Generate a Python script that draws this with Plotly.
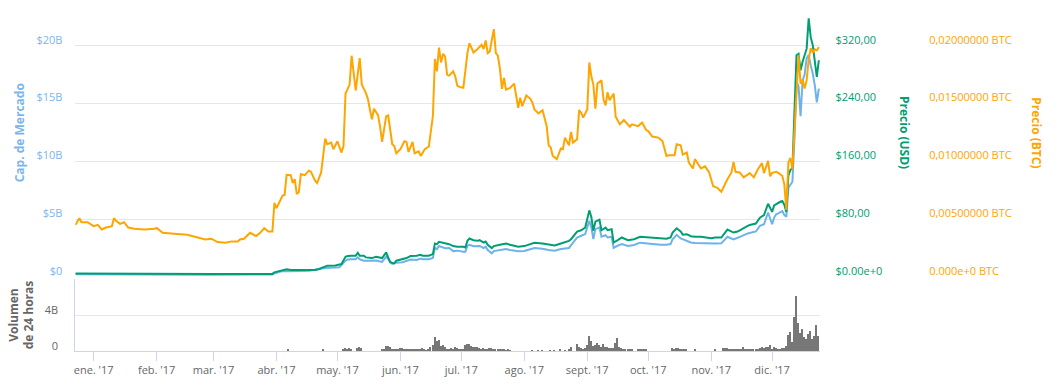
import plotly.graph_objects as go

# ---------------- DATA ----------------
btc_dates = [
 "2016-12-23","2016-12-25","2016-12-26","2016-12-29","2017-01-01","2017-01-03","2017-01-05","2017-01-07",
 "2017-01-10","2017-01-11","2017-01-12","2017-01-14","2017-01-16","2017-01-18","2017-01-21","2017-01-26",
 "2017-01-31","2017-02-01","2017-02-04","2017-02-09","2017-02-11","2017-02-16","2017-02-21","2017-02-25",
 "2017-02-28","2017-03-03","2017-03-07","2017-03-10","2017-03-13","2017-03-14","2017-03-16","2017-03-19",
 "2017-03-22","2017-03-24","2017-03-26","2017-03-28","2017-03-30","2017-03-31","2017-04-01","2017-04-04",
 "2017-04-05","2017-04-06","2017-04-08","2017-04-09","2017-04-10","2017-04-11","2017-04-12","2017-04-13",
 "2017-04-15","2017-04-17","2017-04-18","2017-04-20","2017-04-21","2017-04-23","2017-04-25","2017-04-26",
 "2017-04-28","2017-04-29","2017-05-01","2017-05-03","2017-05-04","2017-05-05","2017-05-07","2017-05-08",
 "2017-05-09","2017-05-10","2017-05-12","2017-05-13","2017-05-15","2017-05-16","2017-05-17","2017-05-18",
 "2017-05-19","2017-05-21","2017-05-22","2017-05-23","2017-05-25","2017-05-26","2017-05-28","2017-05-29",
 "2017-05-30","2017-06-01","2017-06-03","2017-06-04","2017-06-05","2017-06-07","2017-06-08","2017-06-10",
 "2017-06-11","2017-06-13","2017-06-15","2017-06-16","2017-06-17","2017-06-18","2017-06-19","2017-06-20",
 "2017-06-21","2017-06-22","2017-06-23","2017-06-24","2017-06-25","2017-06-27","2017-06-28","2017-06-29",
 "2017-06-30","2017-07-02","2017-07-04","2017-07-05","2017-07-07","2017-07-09","2017-07-11","2017-07-12",
 "2017-07-13","2017-07-14","2017-07-15","2017-07-17","2017-07-18","2017-07-19","2017-07-20","2017-07-21",
 "2017-07-22","2017-07-23","2017-07-25","2017-07-27","2017-07-29","2017-07-30","2017-07-31","2017-08-02",
 "2017-08-04","2017-08-05","2017-08-06","2017-08-08","2017-08-10","2017-08-12","2017-08-13","2017-08-14",
 "2017-08-15","2017-08-17","2017-08-19","2017-08-20","2017-08-21","2017-08-23","2017-08-24","2017-08-25",
 "2017-08-27","2017-08-28","2017-08-29","2017-08-30","2017-09-01","2017-09-02","2017-09-03","2017-09-04",
 "2017-09-05","2017-09-06","2017-09-08","2017-09-09","2017-09-10","2017-09-11","2017-09-12","2017-09-14",
 "2017-09-15","2017-09-17","2017-09-19","2017-09-22","2017-09-23","2017-09-26","2017-09-28","2017-09-30",
 "2017-10-01","2017-10-03","2017-10-06","2017-10-08","2017-10-10","2017-10-11","2017-10-14","2017-10-15",
 "2017-10-17","2017-10-18","2017-10-20","2017-10-21","2017-10-23","2017-10-24","2017-10-25","2017-10-27",
 "2017-10-29","2017-10-31","2017-11-02","2017-11-04","2017-11-06","2017-11-08","2017-11-09","2017-11-11",
 "2017-11-12","2017-11-13","2017-11-15","2017-11-17","2017-11-18","2017-11-20","2017-11-22","2017-11-24",
 "2017-11-26","2017-11-27","2017-11-29","2017-11-30","2017-12-01","2017-12-02","2017-12-03","2017-12-04",
 "2017-12-05","2017-12-06","2017-12-07","2017-12-08","2017-12-09","2017-12-10","2017-12-11","2017-12-12",
 "2017-12-13","2017-12-14","2017-12-15","2017-12-16","2017-12-17","2017-12-18","2017-12-19","2017-12-20",
 "2017-12-21","2017-12-22","2017-12-23","2017-12-24"]
btc_values = [
 0.00450,0.00508,0.00473,0.00473,0.00439,0.00450,0.00410,0.00427,
 0.00439,0.00508,0.00485,0.00459,0.00473,0.00427,0.00416,0.00410,
 0.00416,0.00424,0.00381,0.00370,0.00372,0.00364,0.00344,0.00324,
 0.00330,0.00301,0.00295,0.00307,0.00307,0.00324,0.00330,0.00381,
 0.00353,0.00381,0.00422,0.00393,0.00393,0.00640,0.00594,0.00703,
 0.00709,0.00884,0.00881,0.00812,0.00846,0.00717,0.00732,0.00889,
 0.00881,0.00921,0.00909,0.00832,0.00812,0.00904,0.01197,0.01148,
 0.01162,0.01105,0.01174,0.01076,0.01133,0.01587,0.01664,0.01914,
 0.01765,0.01613,0.01894,0.01664,0.01593,0.01541,0.01449,0.01363,
 0.01455,0.01400,0.01300,0.01168,0.01391,0.01397,0.01148,0.01133,
 0.01070,0.01105,0.01174,0.01168,0.01081,0.01168,0.01070,0.01087,
 0.01047,0.01105,0.01128,0.01262,0.01391,0.01886,0.01779,0.01985,
 0.01856,0.01931,0.01908,0.01750,0.01742,0.01779,0.01736,0.01656,
 0.01644,0.01636,0.01937,0.02023,0.01942,0.01972,0.02009,0.01972,
 0.02046,0.01937,0.01951,0.02144,0.01937,0.01914,0.01800,0.01627,
 0.01722,0.01621,0.01636,0.01673,0.01464,0.01550,0.01477,0.01570,
 0.01541,0.01507,0.01449,0.01415,0.01443,0.01305,0.01139,0.01119,
 0.01047,0.01019,0.01111,0.01105,0.01205,0.01139,0.01254,0.01162,
 0.01191,0.01443,0.01421,0.01378,0.01449,0.01856,0.01736,0.01664,
 0.01455,0.01673,0.01701,0.01535,0.01484,0.01598,0.01529,0.01587,
 0.01386,0.01320,0.01357,0.01300,0.01320,0.01305,0.01335,0.01271,
 0.01262,0.01214,0.01205,0.01176,0.01047,0.01053,0.01053,0.01148,
 0.01139,0.01058,0.01076,0.00990,0.00938,0.01019,0.00990,0.00938,
 0.00956,0.00904,0.00784,0.00771,0.00737,0.00818,0.00846,0.00904,
 0.00995,0.00909,0.00904,0.00861,0.00875,0.00898,0.00861,0.00932,
 0.00984,0.00898,0.01004,0.00870,0.00900,0.00905,0.00910,0.00900,
 0.00888,0.00875,0.00800,0.00580,0.00990,0.01030,0.00930,0.01290,
 0.01690,0.01920,0.01670,0.01710,0.01630,0.01700,0.01880,0.01980,
 0.01940,0.01970,0.01960,0.01990]

usd_dates = [
 "2016-12-23","2016-12-28","2017-01-01","2017-01-04","2017-01-08","2017-01-12","2017-01-20","2017-02-01",
 "2017-02-15","2017-03-01","2017-03-10","2017-03-20","2017-03-30","2017-03-31","2017-04-02","2017-04-04",
 "2017-04-06","2017-04-08","2017-04-11","2017-04-13","2017-04-17","2017-04-20","2017-04-22","2017-04-25",
 "2017-04-26","2017-04-30","2017-05-02","2017-05-03","2017-05-05","2017-05-06","2017-05-08","2017-05-10",
 "2017-05-11","2017-05-12","2017-05-14","2017-05-15","2017-05-18","2017-05-20","2017-05-23","2017-05-25",
 "2017-05-27","2017-05-29","2017-05-30","2017-06-02","2017-06-04","2017-06-06","2017-06-09","2017-06-11",
 "2017-06-12","2017-06-15","2017-06-17","2017-06-18","2017-06-19","2017-06-20","2017-06-23","2017-06-25",
 "2017-06-27","2017-06-29","2017-07-02","2017-07-03","2017-07-04","2017-07-05","2017-07-07","2017-07-09",
 "2017-07-10","2017-07-12","2017-07-13","2017-07-14","2017-07-16","2017-07-17","2017-07-20","2017-07-21",
 "2017-07-23","2017-07-25","2017-07-29","2017-08-01","2017-08-03","2017-08-06","2017-08-10","2017-08-13",
 "2017-08-16","2017-08-19","2017-08-23","2017-08-24","2017-08-27","2017-08-29","2017-08-31","2017-09-02",
 "2017-09-03","2017-09-04","2017-09-05","2017-09-07","2017-09-08","2017-09-10","2017-09-11","2017-09-13",
 "2017-09-14","2017-09-16","2017-09-18","2017-09-21","2017-09-24","2017-09-27","2017-10-01","2017-10-04",
 "2017-10-07","2017-10-10","2017-10-12","2017-10-13","2017-10-15","2017-10-17","2017-10-18","2017-10-20",
 "2017-10-22","2017-10-24","2017-10-27","2017-10-30","2017-11-01","2017-11-03","2017-11-06","2017-11-09",
 "2017-11-12","2017-11-14","2017-11-16","2017-11-19","2017-11-20","2017-11-23","2017-11-25","2017-11-27",
 "2017-11-29","2017-12-01","2017-12-02","2017-12-03","2017-12-04","2017-12-05","2017-12-06","2017-12-07",
 "2017-12-08","2017-12-09","2017-12-10","2017-12-11","2017-12-12","2017-12-13","2017-12-14","2017-12-15",
 "2017-12-16","2017-12-17","2017-12-18","2017-12-19","2017-12-20","2017-12-21","2017-12-22","2017-12-23",
 "2017-12-24"]
usd_values = [
 4.5,4.4,4.4,4.6,4.0,4.0,3.9,4.0,
 3.8,3.8,3.9,4.0,4.1,6.3,7.7,9.5,
 10.4,9.5,9.5,10.4,10.4,9.5,10.9,15.0,
 15.5,15.9,16.9,17.8,27.9,28.8,29.2,29.2,
 33.4,29.2,29.2,27.0,26.0,27.9,26.0,33.8,
 20.1,18.7,22.4,24.2,26.0,28.8,29.2,30.6,
 29.2,29.2,31.5,46.2,45.3,48.5,47.1,45.3,
 42.6,41.6,41.6,40.7,49.9,53.1,50.8,49.9,
 50.8,47.6,49.0,44.4,39.8,42.6,44.4,45.3,
 46.2,44.4,41.6,42.6,44.4,47.1,46.2,44.4,
 43.5,46.2,49.9,52.2,62.8,64.6,68.3,92.1,
 83.0,63.7,76.5,79.3,64.6,68.3,64.6,66.0,
 47.6,50.8,54.5,50.8,52.2,55.4,54.5,53.6,
 53.6,52.7,54.5,61.4,67.3,63.0,58.5,59.1,
 56.3,55.4,55.4,54.5,53.6,54.5,54.5,65.5,
 61.4,62.8,66.4,70.6,71.9,73.8,82.0,85.7,
 101.3,90.0,99.0,101.0,102.0,104.0,105.0,100.0,
 90.0,140.0,148.0,151.0,229.0,307.0,309.0,286.0,
 298.0,309.0,316.0,358.0,332.0,321.0,295.0,277.0,
 300.0]

cap_dates = [
 "2016-12-23","2017-01-01","2017-01-04","2017-01-08","2017-01-20","2017-02-01","2017-02-15","2017-03-01",
 "2017-03-20","2017-03-30","2017-03-31","2017-04-04","2017-04-08","2017-04-17","2017-04-25","2017-05-02",
 "2017-05-05","2017-05-06","2017-05-08","2017-05-10","2017-05-11","2017-05-12","2017-05-14","2017-05-15",
 "2017-05-18","2017-05-20","2017-05-23","2017-05-25","2017-05-28","2017-05-30","2017-06-02","2017-06-04",
 "2017-06-06","2017-06-09","2017-06-11","2017-06-12","2017-06-15","2017-06-17","2017-06-18","2017-06-19",
 "2017-06-20","2017-06-23","2017-06-25","2017-06-27","2017-06-29","2017-07-02","2017-07-03","2017-07-04",
 "2017-07-05","2017-07-07","2017-07-09","2017-07-10","2017-07-12","2017-07-13","2017-07-14","2017-07-16",
 "2017-07-17","2017-07-20","2017-07-21","2017-07-23","2017-07-25","2017-07-29","2017-08-01","2017-08-03",
 "2017-08-06","2017-08-10","2017-08-13","2017-08-16","2017-08-19","2017-08-23","2017-08-24","2017-08-27",
 "2017-08-29","2017-08-31","2017-09-02","2017-09-03","2017-09-04","2017-09-05","2017-09-07","2017-09-08",
 "2017-09-10","2017-09-11","2017-09-13","2017-09-14","2017-09-16","2017-09-18","2017-09-21","2017-09-24",
 "2017-09-27","2017-10-01","2017-10-04","2017-10-07","2017-10-10","2017-10-12","2017-10-13","2017-10-15",
 "2017-10-17","2017-10-18","2017-10-20","2017-10-22","2017-10-24","2017-10-27","2017-10-30","2017-11-01",
 "2017-11-03","2017-11-06","2017-11-09","2017-11-12","2017-11-14","2017-11-16","2017-11-19","2017-11-20",
 "2017-11-23","2017-11-25","2017-11-27","2017-11-29","2017-12-01","2017-12-02","2017-12-03","2017-12-04",
 "2017-12-05","2017-12-06","2017-12-07","2017-12-08","2017-12-09","2017-12-10","2017-12-11","2017-12-12",
 "2017-12-13","2017-12-14","2017-12-15","2017-12-16","2017-12-17","2017-12-18","2017-12-19","2017-12-20",
 "2017-12-21","2017-12-22","2017-12-23","2017-12-24"]
cap_values_b = [
 0.22,0.21,0.23,0.20,0.19,0.20,0.19,0.19,
 0.20,0.21,0.31,0.50,0.49,0.54,0.77,0.83,
 1.40,1.50,1.52,1.52,1.69,1.52,1.40,1.40,
 1.36,1.41,1.29,1.75,1.12,1.23,1.27,1.41,
 1.50,1.46,1.58,1.52,1.52,1.64,2.50,2.40,
 2.67,2.48,2.50,2.23,2.27,2.18,2.18,2.67,
 2.78,2.66,2.67,2.68,2.50,2.61,2.32,2.04,
 2.23,2.32,2.38,2.41,2.33,2.21,2.24,2.32,
 2.50,2.44,2.32,2.27,2.41,2.50,2.75,3.41,
 3.56,3.70,4.85,4.28,3.27,4.13,4.28,3.47,
 3.60,3.41,3.48,2.50,2.70,2.84,2.67,2.76,
 2.96,2.88,2.83,2.78,2.78,2.84,3.25,3.64,
 3.33,3.27,3.12,2.98,2.93,2.90,2.88,2.84,
 2.88,2.90,3.47,3.25,3.36,3.52,3.76,3.81,
 3.93,4.42,4.55,5.57,4.55,5.13,5.42,5.50,
 5.60,5.70,5.36,5.19,7.71,8.00,8.23,12.0,
 16.9,16.5,13.9,17.0,17.5,18.9,19.2,18.3,
 17.6,16.6,15.1,16.3]

vol_dates = [
 "2017-04-07","2017-04-24","2017-05-04","2017-05-05","2017-05-06","2017-05-07","2017-05-08","2017-05-11",
 "2017-05-12","2017-05-13","2017-05-23","2017-05-24","2017-05-25","2017-05-26","2017-05-27","2017-05-28",
 "2017-05-29","2017-05-30","2017-05-31",
 "2017-06-01","2017-06-02","2017-06-03","2017-06-04","2017-06-05","2017-06-06","2017-06-07","2017-06-08",
 "2017-06-09","2017-06-10","2017-06-11","2017-06-12","2017-06-13","2017-06-14","2017-06-15","2017-06-16",
 "2017-06-17","2017-06-18","2017-06-19","2017-06-20","2017-06-21","2017-06-22","2017-06-23","2017-06-24",
 "2017-06-25","2017-06-26","2017-06-27","2017-06-28","2017-06-29","2017-06-30",
 "2017-07-01","2017-07-02","2017-07-03","2017-07-04","2017-07-05","2017-07-06","2017-07-07","2017-07-08",
 "2017-07-09","2017-07-10","2017-07-11","2017-07-12","2017-07-13","2017-07-14","2017-07-15","2017-07-16",
 "2017-07-17","2017-07-18","2017-07-19","2017-07-20","2017-07-21","2017-07-22","2017-07-23","2017-07-24",
 "2017-07-25",
 "2017-08-05","2017-08-08","2017-08-10","2017-08-14","2017-08-16","2017-08-19","2017-08-21","2017-08-23",
 "2017-08-24","2017-08-27","2017-08-28","2017-08-29","2017-08-30","2017-08-31",
 "2017-09-01","2017-09-02","2017-09-03","2017-09-04","2017-09-05","2017-09-06","2017-09-07","2017-09-08",
 "2017-09-09","2017-09-10","2017-09-11","2017-09-12","2017-09-13","2017-09-14","2017-09-15","2017-09-16",
 "2017-09-17","2017-09-18","2017-09-19","2017-09-20","2017-09-21","2017-09-22","2017-09-23","2017-09-26",
 "2017-09-27","2017-09-28","2017-09-29","2017-09-30",
 "2017-10-13","2017-10-14","2017-10-15","2017-10-16","2017-10-17","2017-10-18","2017-10-19","2017-10-20",
 "2017-10-24",
 "2017-11-03","2017-11-07","2017-11-08","2017-11-09","2017-11-10","2017-11-11","2017-11-12","2017-11-13",
 "2017-11-14","2017-11-15","2017-11-16","2017-11-17","2017-11-18","2017-11-19","2017-11-20","2017-11-21",
 "2017-11-22","2017-11-23","2017-11-24","2017-11-25","2017-11-26","2017-11-27","2017-11-28","2017-11-29",
 "2017-11-30",
 "2017-12-01","2017-12-02","2017-12-03","2017-12-04","2017-12-05","2017-12-06","2017-12-07","2017-12-08",
 "2017-12-09","2017-12-10","2017-12-11","2017-12-12","2017-12-13","2017-12-14","2017-12-15","2017-12-16",
 "2017-12-17","2017-12-18","2017-12-19","2017-12-20","2017-12-21","2017-12-22","2017-12-23","2017-12-24"]
vol_values_b = [
 0.10,0.10,0.15,0.30,0.20,0.30,0.20,0.25,
 0.37,0.30,0.11,0.15,0.48,0.48,0.37,0.22,
 0.15,0.11,0.10,
 0.30,0.26,0.22,0.19,0.22,0.22,0.15,0.15,
 0.15,0.22,0.15,0.30,0.20,0.05,0.15,0.37,
 0.67,1.48,1.04,1.19,0.48,0.59,0.37,0.22,
 0.22,0.30,0.19,0.37,0.30,0.22,
 0.15,0.22,0.59,0.74,0.74,0.48,0.37,0.44,
 0.37,0.30,0.22,0.30,0.15,0.22,0.30,0.30,
 0.15,0.22,0.22,0.11,0.15,0.10,0.07,0.08,
 0.07,
 0.07,0.07,0.07,0.07,0.07,0.11,0.04,0.11,
 0.37,0.74,0.44,0.30,0.22,0.30,
 0.59,1.59,1.11,0.48,0.67,0.85,0.59,0.45,
 0.74,0.37,0.41,0.33,0.33,0.33,0.85,1.41,
 0.41,0.30,0.22,0.15,0.11,0.11,0.11,0.11,
 0.11,0.11,0.11,0.11,
 0.30,0.22,0.30,0.26,0.11,0.15,0.19,0.19,
 0.11,
 0.11,0.30,0.26,0.26,0.22,0.19,0.22,0.19,
 0.22,0.19,0.22,0.41,0.19,0.15,0.15,0.19,
 0.22,0.19,0.22,0.30,0.37,0.30,0.41,0.44,
 0.67,
 0.22,0.41,0.26,0.22,0.22,0.26,0.33,0.48,
 1.78,2.04,0.95,3.81,6.11,3.07,1.96,2.41,
 1.48,1.30,1.85,2.15,1.33,1.59,2.81,1.67]

month_ticks = ["2017-01-01","2017-02-01","2017-03-01","2017-04-01","2017-05-01","2017-06-01",
               "2017-07-01","2017-08-01","2017-09-01","2017-10-01","2017-11-01","2017-12-01"]
month_labels = ["ene. '17","feb. '17","mar. '17","abr. '17","may. '17","jun. '17",
                "jul. '17","ago. '17","sept. '17","oct. '17","nov. '17","dic. '17"]

cap_ticks = [0, 5, 10, 15, 20]
cap_labels = ["$0", "$5B", "$10B", "$15B", "$20B"]
usd_ticks = [0, 80, 160, 240, 320]
usd_labels = ["$0.00e+0", "$80,00", "$160,00", "$240,00", "$320,00"]
btc_ticks = [0, 0.005, 0.01, 0.015, 0.02]
btc_labels = ["0.000e+0 BTC", "0,00500000 BTC", "0,01000000 BTC", "0,01500000 BTC", "0,02000000 BTC"]
vol_ticks = [0, 4, 8]
vol_labels = ["0", "4B", ""]

# ---------------- STYLE ----------------
W, H = 1058, 388
FONT = "Open Sans"
C_CAP, C_USD, C_BTC, C_VOL = "#6db3ea", "#009e73", "#ffa500", "#777777"
C_CAP_TXT = "#7cb5ec"
GRID = "#e6e6e6"
AXL = "#ccd6eb"

px_left, px_right = 73.5, 820.0
xdom = [px_left / W, px_right / W]
main_dom = [(H - 278.3) / H, (H - 12) / H]
vol_dom = [(H - 352.7) / H, (H - 280.7) / H]
xrange_ = ["2016-12-23 00:00", "2017-12-24 19:00"]
LBL_UP = -6

fig = go.Figure()
fig.add_trace(go.Bar(x=vol_dates, y=vol_values_b, xaxis="x2", yaxis="y4",
                     marker=dict(color=C_VOL, line=dict(width=0)), width=0.5 * 86400000,
                     showlegend=False, hoverinfo="skip"))
fig.add_trace(go.Scatter(x=cap_dates, y=cap_values_b, mode="lines", xaxis="x", yaxis="y",
                         line=dict(color=C_CAP, width=2), showlegend=False))
fig.add_trace(go.Scatter(x=usd_dates, y=usd_values, mode="lines", xaxis="x", yaxis="y2",
                         line=dict(color=C_USD, width=2), showlegend=False))
fig.add_trace(go.Scatter(x=btc_dates, y=btc_values, mode="lines", xaxis="x", yaxis="y3",
                         line=dict(color=C_BTC, width=2), showlegend=False))

tickfont = lambda c: dict(family=FONT, size=11, color=c)

fig.update_layout(
    width=W, height=H, margin=dict(l=0, r=0, t=0, b=0),
    paper_bgcolor="white", plot_bgcolor="white", showlegend=False, bargap=0,
    font=dict(family=FONT, size=11, color="#666666"),
    xaxis=dict(domain=xdom, anchor="y", type="date", range=xrange_, showticklabels=False,
               showgrid=False, zeroline=False, showline=False, ticks=""),
    xaxis2=dict(domain=xdom, anchor="y4", type="date", range=xrange_, tickmode="array",
                tickvals=month_ticks, ticktext=month_labels, ticks="outside", ticklen=9,
                tickwidth=1, tickcolor=AXL, showline=True, linecolor=AXL, linewidth=1,
                showgrid=False, zeroline=False, tickfont=tickfont("#666666")),
    yaxis=dict(domain=main_dom, anchor="x", range=[0, 22.93], tickmode="array",
               tickvals=cap_ticks, ticktext=cap_labels, showgrid=True, gridcolor=GRID,
               gridwidth=1, zeroline=False, showline=False, ticks="",
               tickfont=tickfont(C_CAP_TXT), ticklabelstandoff=12, ticklabelshift=LBL_UP),
    yaxis2=dict(overlaying="y", anchor="x", side="right", range=[0, 366.9], tickmode="array",
                tickvals=usd_ticks, ticktext=usd_labels, showgrid=False, zeroline=False,
                showline=False, ticks="", tickfont=tickfont(C_USD), ticklabelstandoff=14,
                ticklabelshift=LBL_UP),
    yaxis3=dict(overlaying="y", anchor="free", side="right", position=928 / W,
                range=[0, 0.02293], tickmode="array", tickvals=btc_ticks, ticktext=btc_labels,
                showgrid=False, zeroline=False, showline=False, ticks="",
                tickfont=tickfont(C_BTC), ticklabelshift=LBL_UP),
    yaxis4=dict(domain=vol_dom, anchor="x2", range=[0, 8], tickmode="array",
                tickvals=vol_ticks, ticktext=vol_labels, showgrid=True, gridcolor=GRID,
                zeroline=False, showline=True, linecolor=AXL, ticks="",
                tickfont=tickfont("#666666"), ticklabelstandoff=14, ticklabelshift=-5),
)

def ann(text, x, y, color, angle):
    return dict(text=text, x=x / W, y=1 - y / H, xref="paper", yref="paper",
                showarrow=False, textangle=angle, xanchor="center", yanchor="middle",
                font=dict(family=FONT, size=12, color=color))

fig.update_layout(annotations=[
    ann("<b>Cap. de Mercado</b>", 17, 133, C_CAP_TXT, -90),
    ann("<b>Precio (USD)</b>", 904, 133, C_USD, 90),
    ann("<b>Precio (BTC)</b>", 1037, 133, C_BTC, 90),
    ann("<b>Volumen<br>de 24 horas</b>", 19, 316, "#666666", -90),
])

fig.write_html("out.html", config={"displayModeBar": False},
               post_script="document.body.style.margin='0';document.body.style.overflow='hidden';")
